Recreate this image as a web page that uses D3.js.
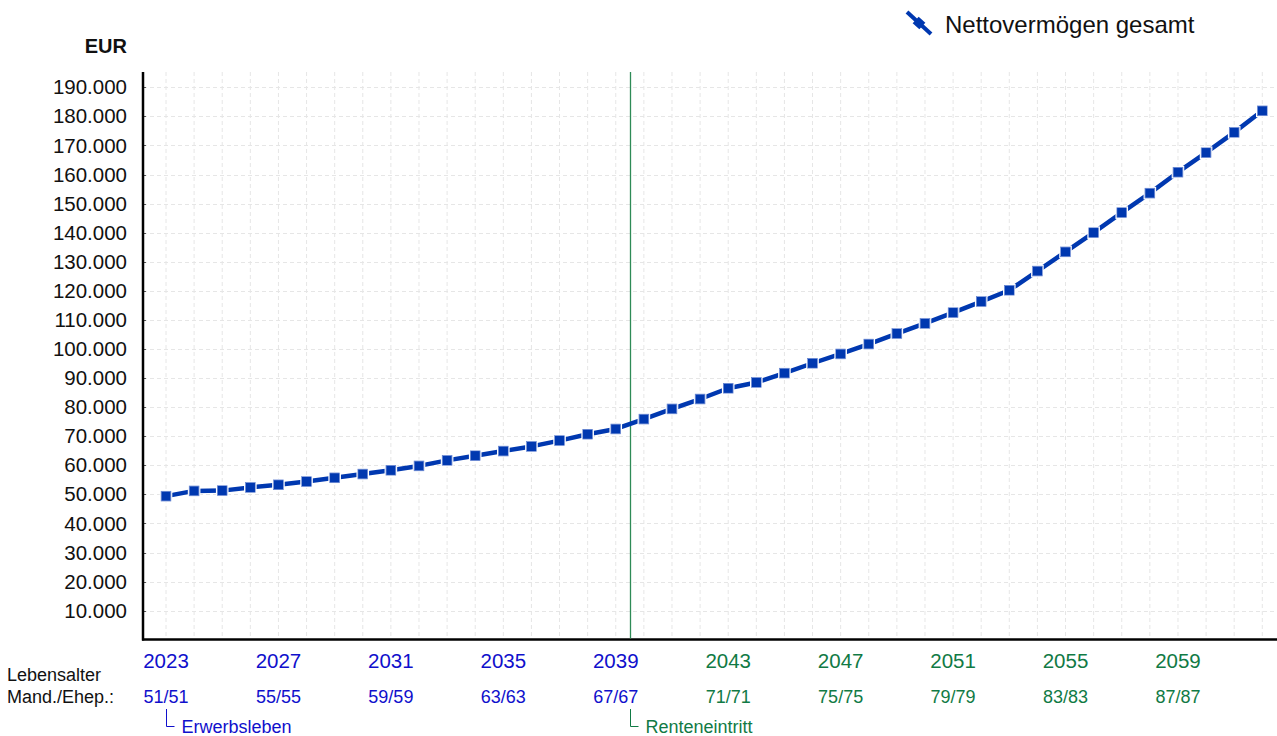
<!DOCTYPE html>
<html>
<head>
<meta charset="utf-8">
<script src="https://cdn.jsdelivr.net/npm/d3@7"></script>
<style>
  html, body { margin: 0; padding: 0; background: #fff; }
  svg { display: block; font-family: "Liberation Sans", Arial, sans-serif; }
</style>
</head>
<body>
<svg id="chart" width="1277" height="736"></svg>
<script>
// ---- data ----
const years = d3.range(2023, 2063);
const nettoVermoegen = [
  49400, 51200, 51300, 52400, 53300, 54400, 55700, 57000, 58300, 59800,
  61700, 63300, 64900, 66500, 68500, 70700, 72500, 75900, 79400, 82800,
  86500, 88500, 91700, 95100, 98300, 101700, 105300, 108800, 112500, 116300,
  120200, 126800, 133400, 140000, 146900, 153600, 160800, 167500, 174500, 181900
];
const yTicks = d3.range(10000, 200000, 10000);
const yearLabels = [2023, 2027, 2031, 2035, 2039, 2043, 2047, 2051, 2055, 2059];
const ageLabels = ["51/51", "55/55", "59/59", "63/63", "67/67", "71/71", "75/75", "79/79", "83/83", "87/87"];
const retirementYear = 2039.5;
const seriesName = "Nettovermögen gesamt";

// ---- styles ----
const BLUE_LINE = "#0038b0";
const BLUE_TXT = "#1010cc";
const GREEN_TXT = "#117a45";
const GREEN_LINE = "#2e8b57";

const svg = d3.select("#chart");
const axisLeft = 143, axisRight = 1277, axisTop = 72, axisBottom = 639.5;

const x = d3.scaleLinear().domain([2023, 2062]).range([166, 1262.3]);
const y = d3.scaleLinear().domain([0, 195000]).range([639.8, 639.8 - 19.5 * 29.08]);

// grid
const grid = svg.append("g");
grid.selectAll("line.v").data(years).enter().append("line")
  .attr("x1", d => x(d)).attr("x2", d => x(d))
  .attr("y1", axisTop).attr("y2", axisBottom)
  .attr("stroke", "#e6e6e6").attr("stroke-width", 1).attr("stroke-dasharray", "4,3");
grid.selectAll("line.h").data(yTicks).enter().append("line")
  .attr("x1", axisLeft).attr("x2", axisRight)
  .attr("y1", d => Math.round(y(d)) + 0.5).attr("y2", d => Math.round(y(d)) + 0.5)
  .attr("stroke", "#e6e6e6").attr("stroke-width", 1).attr("stroke-dasharray", "4,3");

// y axis
const fmt = d => d3.format(",")(d).replace(/,/g, ".");
const yAxis = svg.append("g").attr("transform", `translate(${axisLeft},0)`)
  .call(d3.axisLeft(y).tickValues(yTicks).tickFormat(fmt).tickSize(0).tickPadding(16));
yAxis.select(".domain").remove();
yAxis.selectAll("text").attr("font-size", 20.5).attr("fill", "#111")
  .attr("font-family", "'Liberation Sans', Arial, sans-serif");
// small tick stubs
svg.append("g").selectAll("line").data(yTicks).enter().append("line")
  .attr("x1", axisLeft).attr("x2", axisLeft + 3)
  .attr("y1", d => Math.round(y(d)) + 0.5).attr("y2", d => Math.round(y(d)) + 0.5)
  .attr("stroke", "#555").attr("stroke-width", 1);

svg.append("text").attr("x", 127).attr("y", 53).attr("text-anchor", "end")
  .attr("font-size", 20).attr("font-weight", "bold").attr("fill", "#111").text("EUR");

// axis lines
svg.append("line").attr("x1", axisLeft).attr("x2", axisLeft).attr("y1", axisTop).attr("y2", axisBottom + 1)
  .attr("stroke", "#000").attr("stroke-width", 2.5);
svg.append("line").attr("x1", axisLeft - 1).attr("x2", axisRight).attr("y1", axisBottom).attr("y2", axisBottom)
  .attr("stroke", "#000").attr("stroke-width", 2.5);

// retirement line
svg.append("line").attr("x1", Math.round(x(retirementYear)) + 0.5).attr("x2", Math.round(x(retirementYear)) + 0.5)
  .attr("y1", axisTop).attr("y2", axisBottom - 1)
  .attr("stroke", GREEN_LINE).attr("stroke-width", 1.3);

// series line
const data = years.map((yr, i) => ({ yr, v: nettoVermoegen[i] }));
svg.append("path").datum(data)
  .attr("fill", "none").attr("stroke", BLUE_LINE).attr("stroke-width", 4.5)
  .attr("stroke-linejoin", "round")
  .attr("d", d3.line().x(d => x(d.yr)).y(d => y(d.v)));
const ms = 11;
svg.append("g").selectAll("rect").data(data).enter().append("rect")
  .attr("x", d => x(d.yr) - ms / 2).attr("y", d => y(d.v) - ms / 2)
  .attr("width", ms).attr("height", ms)
  .attr("fill", BLUE_LINE).attr("stroke", "#ffffff").attr("stroke-width", 1.6);
svg.append("g").selectAll("rect").data(data).enter().append("rect")
  .attr("x", d => x(d.yr) - ms / 2 + 0.6).attr("y", d => y(d.v) - ms / 2 + 0.6)
  .attr("width", ms - 1.2).attr("height", ms - 1.2)
  .attr("fill", "none").attr("stroke", "#5577cc").attr("stroke-width", 0.6);

// x labels
const labelColor = yr => (yr <= retirementYear ? BLUE_TXT : GREEN_TXT);
svg.append("g").selectAll("text").data(yearLabels).enter().append("text")
  .attr("x", d => x(d)).attr("y", 668).attr("text-anchor", "middle")
  .attr("font-size", 20.5).attr("fill", d => labelColor(d)).text(d => d);
svg.append("g").selectAll("text").data(ageLabels).enter().append("text")
  .attr("x", (d, i) => x(yearLabels[i])).attr("y", 703).attr("text-anchor", "middle")
  .attr("font-size", 18).attr("fill", (d, i) => labelColor(yearLabels[i])).text(d => d);

svg.append("text").attr("x", 7).attr("y", 681).attr("font-size", 18).attr("fill", "#111").text("Lebensalter");
svg.append("text").attr("x", 7).attr("y", 703).attr("font-size", 18).attr("fill", "#111").text("Mand./Ehep.:");

// phase annotations
function phase(px, label, color) {
  const xx = Math.round(px) + 0.5;
  svg.append("path").attr("d", `M${xx},709 V726.5 H${xx + 8}`)
    .attr("fill", "none").attr("stroke", color).attr("stroke-width", 1);
  svg.append("text").attr("x", xx + 15).attr("y", 733).attr("font-size", 18).attr("fill", color).text(label);
}
phase(x(2023), "Erwerbsleben", BLUE_TXT);
phase(x(retirementYear), "Renteneintritt", GREEN_TXT);

// legend
const lg = svg.append("g");
lg.append("line").attr("x1", 907).attr("y1", 12).attr("x2", 931).attr("y2", 34)
  .attr("stroke", BLUE_LINE).attr("stroke-width", 4);
lg.append("rect").attr("x", -4.5).attr("y", -4.5).attr("width", 9).attr("height", 9)
  .attr("fill", BLUE_LINE).attr("transform", "translate(919,23) rotate(42)");
lg.append("text").attr("x", 945).attr("y", 33).attr("font-size", 24).attr("fill", "#111").text(seriesName);
</script>
</body>
</html>
